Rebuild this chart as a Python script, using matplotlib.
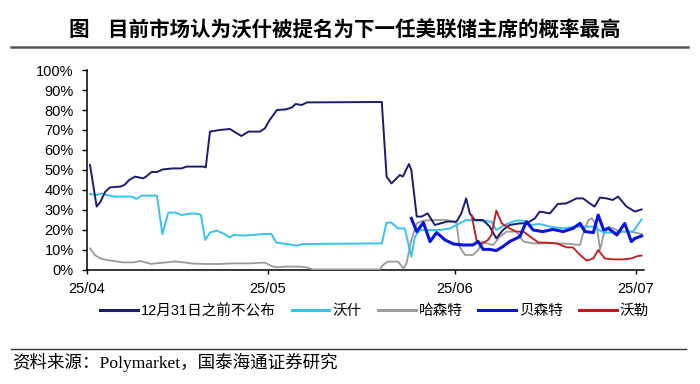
import matplotlib
matplotlib.use("Agg")
import matplotlib.pyplot as plt
import matplotlib.dates as mdates
import pandas as pd
from matplotlib.ticker import FuncFormatter
from matplotlib.lines import Line2D

plt.rcParams['font.family'] = ['Liberation Sans', 'Noto Sans CJK SC', 'DejaVu Sans']

# ---------------- data (days since 2025-04-01, probability %) ----------------
start = "2025-04-01"

navy_day = [0.5, 1.6, 2.2, 3, 3.8, 5.5, 6.2, 7, 8, 9.3, 9.8, 10.7, 11.6, 12.6, 14.3, 15.7,
            16.5, 19.3, 19.7, 20.4, 22, 23.7, 25.6, 26.8, 28.7, 29.5, 30.3, 31.5, 33, 34,
            34.6, 35.6, 36.5, 48.9, 49.7, 50.5, 51.9, 52.4, 53.4, 53.8, 54.7, 55.5, 56.5,
            57.7, 59.7, 61.3, 62.1, 62.9, 63.5, 64.3, 65.7, 66.8, 67.9, 69, 70.1, 71.8,
            72.9, 74.3, 75.1, 76.8, 78.1, 79.5, 81.2, 82.3, 83.4, 84.2, 85.1, 86.2, 87.2,
            88.1, 89.5, 90.9, 92]
navy_val = [52.5, 31.7, 34, 39, 41.3, 41.7, 42.5, 45, 46.7, 45.8, 46.7, 49, 49, 50.3, 50.8, 50.8,
            51.7, 51.7, 51.3, 69.2, 70, 70.5, 67, 69.2, 69.2, 70.8, 75, 80, 80.3, 81.3,
            83, 82.5, 83.8, 84, 46.7, 43.3, 47.5, 46.7, 53, 50, 26.7, 26.7, 28.3,
            22.5, 24.2, 24.2, 28.3, 35.8, 28.3, 25, 25, 21.7, 15.8, 20, 22.5, 23.3,
            23.3, 25.8, 29.2, 28.3, 33, 33.3, 35.8, 35.8, 33.3, 31.7, 36.2, 35.8, 35,
            36.7, 31.7, 29.2, 30.3]

warsh_day = [0.5, 1.6, 2.4, 3.3, 4.6, 7.4, 8.2, 9, 11.6, 12.5, 13.5, 14.6, 15.7, 17.4, 18.5,
             18.9, 19.6, 20.4, 21.5, 22.6, 23.7, 24.3, 25.9, 27.6, 29.2, 30.6, 31.4, 33.1,
             34.8, 35.8, 48.9, 49.7, 50.5, 51.6, 52.7, 53.8, 54.4, 55.2, 58.5, 60.2, 61.3,
             62.9, 64.6, 67.1, 67.9, 69.6, 71.2, 72.4, 73.5, 75.1, 76.8, 79, 81.2, 84,
             85.7, 87.3, 89, 90.6, 92]
warsh_val = [38, 37.5, 38.3, 37.5, 36.7, 36.7, 35.5, 37.2, 37.2, 18, 28.7, 28.7, 27.5, 28.3, 28,
             27.5, 15, 18.7, 19.7, 18.3, 16.3, 17.5, 17.2, 17.5, 18, 18, 13.7, 13,
             12.2, 13, 13.3, 23.7, 23.7, 20.8, 20.8, 6.7, 16.7, 20, 20, 20.8, 22.5,
             25, 24.7, 24.2, 20, 23, 24.7, 24.7, 22.5, 23, 21.7, 20.8, 21.7, 21.7,
             18.7, 18.7, 19.2, 19.2, 25.3]

hassett_day = [0.5, 1.3, 2.2, 3.3, 4.4, 6, 7.7, 8.8, 10.7, 11.3, 13.2, 14.6, 16.3, 17.6, 19.8,
               22, 24.2, 27, 29.5, 30.6, 31.4, 33.1, 35.3, 36.4, 37.5, 48.6, 49.1, 49.9,
               51.6, 52.5, 53, 53.8, 54.7, 55.8, 58, 59.7, 60.8, 61.3, 61.8, 62.7, 64,
               64.9, 65.5, 66.3, 67.4, 68.5, 69.6, 71.2, 72.4, 74, 78.4, 80.1, 81.8, 82.3,
               83.2, 83.8, 84.6, 85.1, 85.7, 86.5, 87.3, 88.4, 90, 92]
hassett_val = [10.8, 7.5, 5.8, 5, 4.5, 3.8, 3.8, 4.5, 3, 3.3, 3.8, 4.3, 3.7, 3.2, 3,
               3, 3.3, 3.3, 3.7, 2, 1.3, 1.7, 1.7, 1.3, 0.3, 0.3, 2.5, 4.2,
               4.2, 0.8, 3.3, 15, 23.3, 24.7, 25, 25, 24.2, 23.3, 11.7, 7.5, 7.5,
               10, 14.2, 13.3, 12.5, 16.7, 19.2, 19.2, 14.2, 13.3, 13.3, 13, 12.5, 18.3,
               25, 25.8, 21.7, 10, 17.5, 21.7, 20.8, 19.2, 19.2, 18]

bessent_day = [53.8, 54.7, 55.8, 56.9, 58, 59.4, 60.8, 62.4, 64, 64.9, 65.7, 66.8, 67.9, 69,
               70.1, 71.8, 72.9, 74, 75.6, 77.3, 79, 80.6, 81.8, 82.6, 84, 84.8, 85.7,
               86.5, 87.9, 89.2, 90.3, 90.9, 92]
bessent_val = [25.8, 19.2, 23.7, 14.2, 18.7, 15, 13, 12.5, 12.5, 14.2, 10.3, 10.3, 9.7, 11.7,
               14.2, 16.7, 24.2, 20, 19.2, 20.3, 19.2, 20.8, 23.3, 19.2, 18.7, 27.5, 20,
               20.8, 17.5, 23.3, 14.2, 15.8, 17]

waller_day = [63.8, 64.6, 65.5, 66.5, 67.1, 67.9, 68.8, 70.1, 71.2, 72.4, 73.5, 74.9, 76.2,
              77.9, 79.6, 80.6, 81.8, 82.9, 84, 84.8, 85.9, 87.3, 89, 90.3, 91.4, 92]
waller_val = [27.5, 15, 13, 15, 17.5, 29.7, 23.3, 20.8, 19.2, 19.2, 16.7, 13.7, 13.7,
              13.3, 11.3, 11.3, 7.5, 4.7, 5.8, 10, 5.8, 5.3, 5.3, 5.8, 7, 7.2]

series_names = ["12月31日之前不公布", "沃什", "哈森特", "贝森特", "沃勒"]
tick_dates = ["2025-04-01", "2025-05-01", "2025-06-01", "2025-07-01"]
tick_labels = ["25/04", "25/05", "25/06", "25/07"]

title = "图    目前市场认为沃什被提名为下一任美联储主席的概率最高"
source = "资料来源：Polymarket，国泰海通证券研究"

# ---------------- plot ----------------
def to_dates(days):
    return pd.Timestamp(start) + pd.to_timedelta(days, unit="D")

fig = plt.figure(figsize=(7, 3.84), dpi=100)
ax = fig.add_axes([0.1243, 0.2969, 0.7957, 0.5208])

colors = ["#1c1c6e", "#36c3ee", "#9a9a9a", "#0a14e0", "#c01a1a"]
widths = [1.4, 1.4, 1.3, 2.2, 1.3]
data = [(navy_day, navy_val), (warsh_day, warsh_val), (hassett_day, hassett_val),
        (bessent_day, bessent_val), (waller_day, waller_val)]
order = [2, 1, 0, 4, 3]
for i in order:
    d, v = data[i]
    ax.plot(to_dates(d), v, color=colors[i], lw=widths[i], solid_joinstyle="round",
            zorder=3 + (i == 3))

ax.set_ylim(0, 100)
ax.set_yticks(range(0, 101, 10))
ax.yaxis.set_major_formatter(FuncFormatter(lambda y, _: f"{int(y)}%"))
ax.set_xlim(pd.Timestamp(start), pd.Timestamp(start) + pd.Timedelta(days=92.4))
ax.set_xticks(pd.to_datetime(tick_dates))
ax.set_xticklabels(tick_labels)

for s in ["top", "right"]:
    ax.spines[s].set_visible(False)
for s in ["left", "bottom"]:
    ax.spines[s].set_color("black")
    ax.spines[s].set_linewidth(1.1)
ax.tick_params(axis="y", length=3.5, width=1, pad=6, labelsize=10.5, colors="black")
ax.tick_params(axis="x", length=3, width=1, pad=6, labelsize=10.5, colors="black")

handles = [Line2D([], [], color=colors[i], lw=2.2) for i in range(5)]
fig.legend(handles, series_names, loc="center", bbox_to_anchor=(0.535, 0.19), ncol=5,
           frameon=False, fontsize=10.5, handlelength=2.6, handletextpad=0.2,
           columnspacing=1.1)

fig.text(0.493, 0.922, title, ha="center", va="center", fontsize=14.8, fontweight="bold",
         family=["Noto Sans CJK SC"])
fig.add_artist(Line2D([0.015, 0.983], [0.877, 0.877], color="#555555", lw=1.8))
fig.add_artist(Line2D([0.015, 0.98], [0.09, 0.09], color="#333333", lw=1.0))
fig.text(0.017, 0.057, source, ha="left", va="center", fontsize=12.6,
         family=["Liberation Serif", "Noto Sans CJK SC"])

fig.savefig("out.png", dpi=100)
